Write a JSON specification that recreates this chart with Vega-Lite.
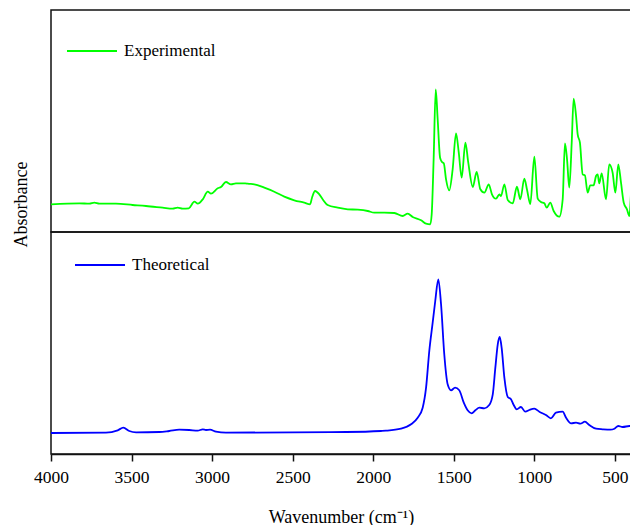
{
  "$schema": "https://vega.github.io/schema/vega-lite/v6.json",
  "background": "white",
  "padding": {"left": 11, "top": 9, "right": 0, "bottom": 0},
  "spacing": 0,
  "bounds": "flush",
  "config": {
    "font": "Liberation Serif",
    "view": {"stroke": "#111", "strokeWidth": 1.5},
    "concat": {"spacing": 0},
    "axis": {"labelFont": "Liberation Serif", "titleFont": "Liberation Serif"},
    "legend": {"labelFont": "Liberation Serif"}
  },
  "datasets": {
    "exp": [
      {"wn": 4000, "a": 27.7, "s": "Experimental"},
      {"wn": 3824, "a": 28.7, "s": "Experimental"},
      {"wn": 3762, "a": 28.3, "s": "Experimental"},
      {"wn": 3731, "a": 29.3, "s": "Experimental"},
      {"wn": 3700, "a": 28.3, "s": "Experimental"},
      {"wn": 3597, "a": 28.3, "s": "Experimental"},
      {"wn": 3493, "a": 27, "s": "Experimental"},
      {"wn": 3410, "a": 26, "s": "Experimental"},
      {"wn": 3307, "a": 24.3, "s": "Experimental"},
      {"wn": 3245, "a": 23.3, "s": "Experimental"},
      {"wn": 3214, "a": 24.3, "s": "Experimental"},
      {"wn": 3183, "a": 23.3, "s": "Experimental"},
      {"wn": 3145, "a": 23.7, "s": "Experimental"},
      {"wn": 3110, "a": 30.3, "s": "Experimental"},
      {"wn": 3089, "a": 28.3, "s": "Experimental"},
      {"wn": 3058, "a": 32.7, "s": "Experimental"},
      {"wn": 3027, "a": 40.3, "s": "Experimental"},
      {"wn": 3007, "a": 38.3, "s": "Experimental"},
      {"wn": 2965, "a": 43.7, "s": "Experimental"},
      {"wn": 2945, "a": 45, "s": "Experimental"},
      {"wn": 2914, "a": 50, "s": "Experimental"},
      {"wn": 2883, "a": 47.7, "s": "Experimental"},
      {"wn": 2852, "a": 48.7, "s": "Experimental"},
      {"wn": 2794, "a": 48.7, "s": "Experimental"},
      {"wn": 2779, "a": 48.3, "s": "Experimental"},
      {"wn": 2738, "a": 47.7, "s": "Experimental"},
      {"wn": 2676, "a": 44.3, "s": "Experimental"},
      {"wn": 2614, "a": 40.3, "s": "Experimental"},
      {"wn": 2552, "a": 35.3, "s": "Experimental"},
      {"wn": 2490, "a": 31.7, "s": "Experimental"},
      {"wn": 2428, "a": 29.3, "s": "Experimental"},
      {"wn": 2392, "a": 27.7, "s": "Experimental"},
      {"wn": 2380, "a": 34.3, "s": "Experimental"},
      {"wn": 2361, "a": 41, "s": "Experimental"},
      {"wn": 2335, "a": 37.7, "s": "Experimental"},
      {"wn": 2314, "a": 32.7, "s": "Experimental"},
      {"wn": 2283, "a": 27, "s": "Experimental"},
      {"wn": 2220, "a": 24.3, "s": "Experimental"},
      {"wn": 2158, "a": 22.7, "s": "Experimental"},
      {"wn": 2096, "a": 22.3, "s": "Experimental"},
      {"wn": 2034, "a": 21, "s": "Experimental"},
      {"wn": 1993, "a": 19.3, "s": "Experimental"},
      {"wn": 1931, "a": 19.3, "s": "Experimental"},
      {"wn": 1869, "a": 19, "s": "Experimental"},
      {"wn": 1817, "a": 16, "s": "Experimental"},
      {"wn": 1786, "a": 18.3, "s": "Experimental"},
      {"wn": 1755, "a": 15, "s": "Experimental"},
      {"wn": 1703, "a": 11.7, "s": "Experimental"},
      {"wn": 1672, "a": 8.3, "s": "Experimental"},
      {"wn": 1646, "a": 7.7, "s": "Experimental"},
      {"wn": 1637, "a": 17.7, "s": "Experimental"},
      {"wn": 1625, "a": 72.7, "s": "Experimental"},
      {"wn": 1612, "a": 142.7, "s": "Experimental"},
      {"wn": 1600, "a": 112.7, "s": "Experimental"},
      {"wn": 1585, "a": 74.3, "s": "Experimental"},
      {"wn": 1573, "a": 70, "s": "Experimental"},
      {"wn": 1562, "a": 68.7, "s": "Experimental"},
      {"wn": 1548, "a": 52.7, "s": "Experimental"},
      {"wn": 1528, "a": 41.7, "s": "Experimental"},
      {"wn": 1507, "a": 62.7, "s": "Experimental"},
      {"wn": 1486, "a": 98.7, "s": "Experimental"},
      {"wn": 1469, "a": 79.3, "s": "Experimental"},
      {"wn": 1451, "a": 54.3, "s": "Experimental"},
      {"wn": 1428, "a": 89.3, "s": "Experimental"},
      {"wn": 1410, "a": 69.3, "s": "Experimental"},
      {"wn": 1382, "a": 45, "s": "Experimental"},
      {"wn": 1358, "a": 60, "s": "Experimental"},
      {"wn": 1335, "a": 42.7, "s": "Experimental"},
      {"wn": 1310, "a": 39.3, "s": "Experimental"},
      {"wn": 1283, "a": 47.7, "s": "Experimental"},
      {"wn": 1263, "a": 37.7, "s": "Experimental"},
      {"wn": 1238, "a": 33.3, "s": "Experimental"},
      {"wn": 1217, "a": 37.7, "s": "Experimental"},
      {"wn": 1207, "a": 36, "s": "Experimental"},
      {"wn": 1186, "a": 47.7, "s": "Experimental"},
      {"wn": 1165, "a": 32, "s": "Experimental"},
      {"wn": 1134, "a": 28.7, "s": "Experimental"},
      {"wn": 1108, "a": 45.3, "s": "Experimental"},
      {"wn": 1087, "a": 32.7, "s": "Experimental"},
      {"wn": 1062, "a": 53.3, "s": "Experimental"},
      {"wn": 1045, "a": 42, "s": "Experimental"},
      {"wn": 1025, "a": 28, "s": "Experimental"},
      {"wn": 1000, "a": 75.3, "s": "Experimental"},
      {"wn": 979, "a": 33.3, "s": "Experimental"},
      {"wn": 959, "a": 30, "s": "Experimental"},
      {"wn": 938, "a": 28.7, "s": "Experimental"},
      {"wn": 923, "a": 24.3, "s": "Experimental"},
      {"wn": 901, "a": 29.3, "s": "Experimental"},
      {"wn": 880, "a": 21, "s": "Experimental"},
      {"wn": 845, "a": 15.3, "s": "Experimental"},
      {"wn": 824, "a": 32.7, "s": "Experimental"},
      {"wn": 810, "a": 88.7, "s": "Experimental"},
      {"wn": 797, "a": 72.7, "s": "Experimental"},
      {"wn": 783, "a": 44.3, "s": "Experimental"},
      {"wn": 768, "a": 89.3, "s": "Experimental"},
      {"wn": 756, "a": 133.3, "s": "Experimental"},
      {"wn": 741, "a": 116, "s": "Experimental"},
      {"wn": 731, "a": 97.7, "s": "Experimental"},
      {"wn": 717, "a": 89.3, "s": "Experimental"},
      {"wn": 700, "a": 57.7, "s": "Experimental"},
      {"wn": 686, "a": 56.7, "s": "Experimental"},
      {"wn": 669, "a": 39.3, "s": "Experimental"},
      {"wn": 653, "a": 46.7, "s": "Experimental"},
      {"wn": 632, "a": 46.7, "s": "Experimental"},
      {"wn": 617, "a": 56, "s": "Experimental"},
      {"wn": 607, "a": 57.7, "s": "Experimental"},
      {"wn": 597, "a": 48.7, "s": "Experimental"},
      {"wn": 582, "a": 58.7, "s": "Experimental"},
      {"wn": 555, "a": 32.7, "s": "Experimental"},
      {"wn": 535, "a": 67.7, "s": "Experimental"},
      {"wn": 514, "a": 59.3, "s": "Experimental"},
      {"wn": 497, "a": 39.3, "s": "Experimental"},
      {"wn": 479, "a": 67.7, "s": "Experimental"},
      {"wn": 462, "a": 49.3, "s": "Experimental"},
      {"wn": 445, "a": 29.3, "s": "Experimental"},
      {"wn": 425, "a": 22.7, "s": "Experimental"},
      {"wn": 410, "a": 16, "s": "Experimental"},
      {"wn": 400, "a": 39.3, "s": "Experimental"}
    ],
    "theo": [
      {"wn": 4000, "a": 21, "s": "Theoretical"},
      {"wn": 3659, "a": 21.3, "s": "Theoretical"},
      {"wn": 3586, "a": 23.7, "s": "Theoretical"},
      {"wn": 3551, "a": 26.3, "s": "Theoretical"},
      {"wn": 3514, "a": 23, "s": "Theoretical"},
      {"wn": 3472, "a": 21.7, "s": "Theoretical"},
      {"wn": 3328, "a": 22, "s": "Theoretical"},
      {"wn": 3266, "a": 23, "s": "Theoretical"},
      {"wn": 3204, "a": 24.3, "s": "Theoretical"},
      {"wn": 3142, "a": 24, "s": "Theoretical"},
      {"wn": 3089, "a": 23.3, "s": "Theoretical"},
      {"wn": 3058, "a": 24.7, "s": "Theoretical"},
      {"wn": 3038, "a": 24, "s": "Theoretical"},
      {"wn": 3013, "a": 24.3, "s": "Theoretical"},
      {"wn": 2976, "a": 22.3, "s": "Theoretical"},
      {"wn": 2914, "a": 21.3, "s": "Theoretical"},
      {"wn": 2500, "a": 21.7, "s": "Theoretical"},
      {"wn": 2169, "a": 22, "s": "Theoretical"},
      {"wn": 1952, "a": 23, "s": "Theoretical"},
      {"wn": 1921, "a": 23.3, "s": "Theoretical"},
      {"wn": 1828, "a": 25.3, "s": "Theoretical"},
      {"wn": 1765, "a": 29.7, "s": "Theoretical"},
      {"wn": 1724, "a": 36.3, "s": "Theoretical"},
      {"wn": 1693, "a": 46.3, "s": "Theoretical"},
      {"wn": 1672, "a": 66.3, "s": "Theoretical"},
      {"wn": 1652, "a": 103, "s": "Theoretical"},
      {"wn": 1631, "a": 131.3, "s": "Theoretical"},
      {"wn": 1615, "a": 153, "s": "Theoretical"},
      {"wn": 1596, "a": 174.7, "s": "Theoretical"},
      {"wn": 1579, "a": 149.7, "s": "Theoretical"},
      {"wn": 1559, "a": 99.7, "s": "Theoretical"},
      {"wn": 1538, "a": 69.7, "s": "Theoretical"},
      {"wn": 1517, "a": 63.7, "s": "Theoretical"},
      {"wn": 1492, "a": 66.3, "s": "Theoretical"},
      {"wn": 1466, "a": 63.7, "s": "Theoretical"},
      {"wn": 1438, "a": 51.3, "s": "Theoretical"},
      {"wn": 1414, "a": 43.7, "s": "Theoretical"},
      {"wn": 1389, "a": 40.7, "s": "Theoretical"},
      {"wn": 1366, "a": 43.7, "s": "Theoretical"},
      {"wn": 1341, "a": 46.3, "s": "Theoretical"},
      {"wn": 1311, "a": 45.7, "s": "Theoretical"},
      {"wn": 1280, "a": 49, "s": "Theoretical"},
      {"wn": 1258, "a": 59.7, "s": "Theoretical"},
      {"wn": 1242, "a": 86.3, "s": "Theoretical"},
      {"wn": 1227, "a": 109.7, "s": "Theoretical"},
      {"wn": 1215, "a": 117, "s": "Theoretical"},
      {"wn": 1203, "a": 106.3, "s": "Theoretical"},
      {"wn": 1186, "a": 76.3, "s": "Theoretical"},
      {"wn": 1165, "a": 57, "s": "Theoretical"},
      {"wn": 1145, "a": 54.7, "s": "Theoretical"},
      {"wn": 1128, "a": 49, "s": "Theoretical"},
      {"wn": 1109, "a": 44.7, "s": "Theoretical"},
      {"wn": 1083, "a": 47, "s": "Theoretical"},
      {"wn": 1056, "a": 42.3, "s": "Theoretical"},
      {"wn": 1031, "a": 44, "s": "Theoretical"},
      {"wn": 1000, "a": 45.3, "s": "Theoretical"},
      {"wn": 969, "a": 42.3, "s": "Theoretical"},
      {"wn": 928, "a": 39, "s": "Theoretical"},
      {"wn": 897, "a": 35.7, "s": "Theoretical"},
      {"wn": 866, "a": 41.3, "s": "Theoretical"},
      {"wn": 824, "a": 42.3, "s": "Theoretical"},
      {"wn": 803, "a": 36.3, "s": "Theoretical"},
      {"wn": 772, "a": 30.7, "s": "Theoretical"},
      {"wn": 741, "a": 31.3, "s": "Theoretical"},
      {"wn": 715, "a": 30.3, "s": "Theoretical"},
      {"wn": 686, "a": 32.3, "s": "Theoretical"},
      {"wn": 659, "a": 29, "s": "Theoretical"},
      {"wn": 617, "a": 25.3, "s": "Theoretical"},
      {"wn": 576, "a": 24.7, "s": "Theoretical"},
      {"wn": 528, "a": 24.3, "s": "Theoretical"},
      {"wn": 503, "a": 25.3, "s": "Theoretical"},
      {"wn": 479, "a": 28, "s": "Theoretical"},
      {"wn": 452, "a": 27, "s": "Theoretical"},
      {"wn": 410, "a": 28, "s": "Theoretical"},
      {"wn": 400, "a": 28, "s": "Theoretical"}
    ]
  },
  "vconcat": [
    {
      "width": 580,
      "height": 222,
      "data": {"name": "exp"},
      "mark": {"type": "line", "strokeWidth": 1.8, "interpolate": "monotone", "clip": true},
      "encoding": {
        "x": {"field": "wn", "type": "quantitative", "scale": {"domain": [400, 4000], "reverse": true, "nice": false, "zero": false}, "axis": null},
        "y": {"field": "a", "type": "quantitative", "scale": {"domain": [0, 222], "nice": false},
          "axis": {"title": "Absorbance", "domain": false, "ticks": false, "labels": false, "grid": false,
            "titleFont": "Liberation Serif", "titleFontSize": 18, "titleFontWeight": "normal", "titleColor": "black",
            "titleX": -25, "titleY": 194, "titleAngle": 270, "titleAlign": "center", "titleBaseline": "alphabetic"}},
        "color": {"field": "s", "type": "nominal", "scale": {"domain": ["Experimental"], "range": ["#00ff00"]},
          "legend": {"title": null, "orient": "none", "legendX": 15, "legendY": 15, "symbolType": "stroke", "symbolSize": 2500,
            "symbolStrokeWidth": 2, "labelFont": "Liberation Serif", "labelFontSize": 17, "labelColor": "black", "labelOffset": 6, "padding": 0}}
      }
    },
    {
      "width": 580,
      "height": 222,
      "data": {"name": "theo"},
      "mark": {"type": "line", "strokeWidth": 1.8, "interpolate": "monotone", "clip": true},
      "encoding": {
        "x": {"field": "wn", "type": "quantitative", "scale": {"domain": [400, 4000], "reverse": true, "nice": false, "zero": false},
          "axis": {"title": "Wavenumber (cm⁻¹)", "values": [4000, 3500, 3000, 2500, 2000, 1500, 1000, 500], "format": "d",
            "grid": false, "domainColor": "#111", "domainWidth": 1.5, "tickColor": "#111", "tickWidth": 1.5, "tickSize": 7,
            "labelFont": "Liberation Serif", "labelFontSize": 17.5, "labelColor": "black", "labelFlush": false, "labelOverlap": false,
            "labelBaseline": "alphabetic", "labelPadding": 21,
            "titleFont": "Liberation Serif", "titleFontSize": 18, "titleFontWeight": "normal", "titleColor": "black",
            "titleBaseline": "alphabetic", "titleY": 68}},
        "y": {"field": "a", "type": "quantitative", "scale": {"domain": [0, 222], "nice": false}, "axis": null},
        "color": {"field": "s", "type": "nominal", "scale": {"domain": ["Theoretical"], "range": ["#0000ff"]},
          "legend": {"title": null, "orient": "none", "legendX": 23, "legendY": 7, "symbolType": "stroke", "symbolSize": 2500,
            "symbolStrokeWidth": 2, "labelFont": "Liberation Serif", "labelFontSize": 17, "labelColor": "black", "labelOffset": 6, "padding": 0}}
      }
    }
  ],
  "resolve": {"scale": {"color": "independent"}}
}
